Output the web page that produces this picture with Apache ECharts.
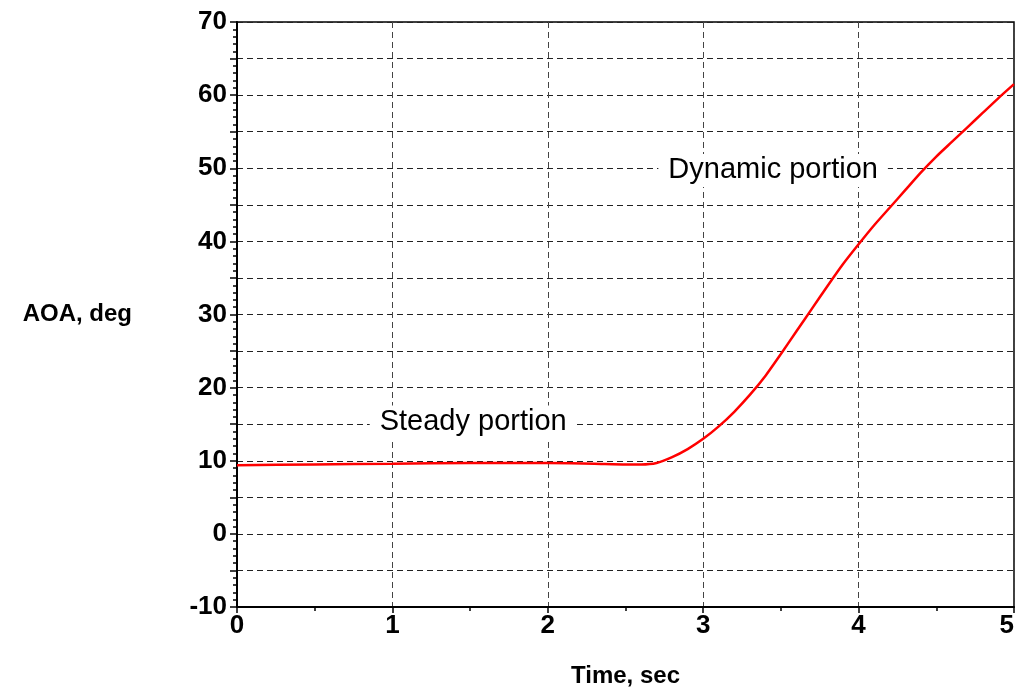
<!DOCTYPE html>
<html><head><meta charset="utf-8">
<script src="https://cdn.jsdelivr.net/npm/echarts@6/dist/echarts.min.js"></script>
<style>html,body{margin:0;padding:0;background:#fff}#c{width:1018px;height:693px}</style>
</head><body><div id="c"></div>
<script>
var timeSec = [0, 0.5, 1.0, 1.5, 2.0, 2.3, 2.5, 2.6, 2.7, 2.8, 2.9, 3.0, 3.1, 3.2, 3.3, 3.4, 3.5, 3.6, 3.7, 3.8, 3.9, 4.0, 4.1, 4.2, 4.3, 4.4, 4.5, 4.6, 4.7, 4.8, 4.9, 5.0];
var aoaDeg  = [9.4, 9.5, 9.6, 9.7, 9.7, 9.6, 9.5, 9.5, 9.7, 10.5, 11.6, 13.0, 14.7, 16.7, 19.0, 21.6, 24.6, 27.7, 30.8, 33.9, 36.9, 39.6, 42.2, 44.6, 47.0, 49.4, 51.6, 53.6, 55.6, 57.6, 59.6, 61.5];
var annotations = [
  {text: 'Steady portion', t: 1.52, v: 15.3},
  {text: 'Dynamic portion', t: 3.45, v: 49.7}
];
var xName = 'Time, sec';
var yName = 'AOA, deg';

var chart = echarts.init(document.getElementById('c'), null, {renderer: 'canvas'});
var font = 'Liberation Sans, Arial, sans-serif';
chart.setOption({
  animation: false,
  backgroundColor: '#fff',
  grid: {left: 237, right: 4, top: 22, bottom: 86, containLabel: false, outerBoundsMode: 'none',
    show: true, borderColor: '#000', borderWidth: 1.5, backgroundColor: 'transparent'},
  xAxis: {
    type: 'value', min: 0, max: 5, interval: 1,
    name: xName, nameLocation: 'middle', nameGap: 57,
    nameTextStyle: {fontFamily: font, fontWeight: 'bold', fontSize: 24, color: '#000'},
    axisLine: {onZero: false, lineStyle: {color: '#000', width: 2}},
    axisTick: {show: true, inside: false, length: 6, lineStyle: {color: '#000', width: 1.5}},
    minorTick: {show: true, splitNumber: 2, length: 4, lineStyle: {color: '#000', width: 1.5}},
    axisLabel: {fontFamily: font, fontWeight: 'bold', fontSize: 26, color: '#000', margin: 6, alignMaxLabel: 'right'},
    splitLine: {show: true, lineStyle: {color: '#444', type: [6, 4], width: 1}}
  },
  yAxis: {
    type: 'value', min: -10, max: 70, interval: 5,
    name: yName, nameLocation: 'middle', nameGap: 105, nameRotate: 0,
    nameTextStyle: {fontFamily: font, fontWeight: 'bold', fontSize: 24, color: '#000'},
    axisLine: {show: true, onZero: false, lineStyle: {color: '#000', width: 2}},
    axisTick: {show: true, inside: false, length: 7, lineStyle: {color: '#000', width: 1.5}},
    minorTick: {show: true, splitNumber: 5, length: 4, lineStyle: {color: '#000', width: 1.5}},
    axisLabel: {fontFamily: font, fontWeight: 'bold', fontSize: 26, color: '#000', margin: 10,
      formatter: function (v) { return (v % 10 === 0) ? String(v) : ''; }},
    splitLine: {show: true, lineStyle: {color: '#222', type: [6, 4], width: 1}}
  },
  series: [{
    type: 'line',
    data: timeSec.map(function (t, i) { return [t, aoaDeg[i]]; }),
    showSymbol: false, smooth: 0.2,
    lineStyle: {color: '#ff0000', width: 2.5},
    itemStyle: {color: '#ff0000'},
    z: 5,
    markPoint: {
      symbol: 'rect', symbolSize: 1,
      itemStyle: {color: 'transparent'},
      data: annotations.map(function (a) {
        return {coord: [a.t, a.v], value: a.text,
          label: {show: true, position: 'inside', formatter: a.text, fontFamily: font, fontSize: 29, color: '#000',
            backgroundColor: '#fff', padding: [2, 10]}};
      })
    }
  }]
});
</script></body></html>
